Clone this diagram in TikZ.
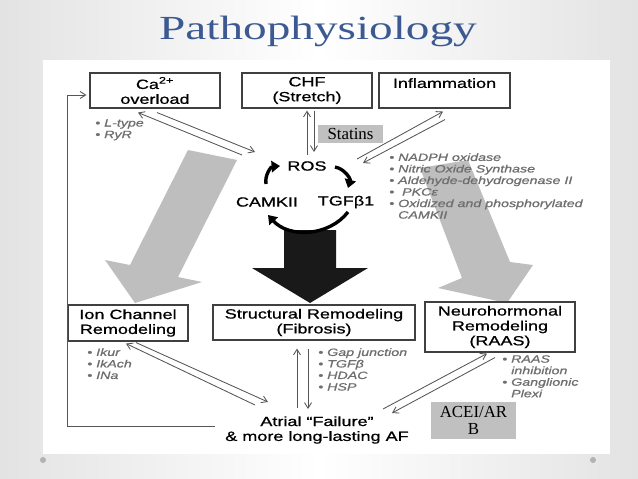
\documentclass[tikz,border=0pt]{standalone}
\usepackage{fontspec}
\setmainfont{Liberation Serif}
\newfontfamily\diagfont{Liberation Sans}[FakeStretch=1.35, FakeBold=0.8]
\newfontfamily\titlefont{Liberation Serif}[FakeStretch=1.4]
\usepackage{tikz}
\usetikzlibrary{arrows.meta}
\definecolor{titleBlue}{RGB}{60,90,145}
\definecolor{lineGray}{RGB}{85,85,85}
\definecolor{bulletGray}{RGB}{110,110,110}
\definecolor{arrowGray}{RGB}{190,190,190}
\definecolor{calloutGray}{RGB}{192,192,192}

\begin{document}
\begin{tikzpicture}[
							x=0.025cm, y=0.025cm,
							boxLevel/.style={rectangle, draw=black!75, line width=0.8pt, align=center, inner sep=0pt, font=\diagfont\fontsize{9.5}{10.6}\selectfont},
							cycleLabel/.style={inner sep=1pt, align=center, font=\diagfont\fontsize{9.5}{10.6}\selectfont},
							bulletList/.style={anchor=north west, inner sep=0pt, align=left, text=bulletGray, font=\diagfont\itshape\fontsize{7.5}{8.2}\selectfont},
							callout/.style={rectangle, fill=calloutGray, inner sep=0pt, align=center, font=\fontsize{12}{12}\selectfont},
							thinArrow/.style={-{Straight Barb[length=4pt,width=5pt]}, draw=lineGray, line width=0.6pt},
							cycleArrow/.style={-{Triangle[length=6pt,width=8pt]}, line width=2.4pt, bend left=48},
							bigArrow/.style={fill=arrowGray}
						]
						
						\shade[left color=gray!22, right color=gray!22, middle color=white] (0,0) rectangle (638,-479);
						\useasboundingbox (0,0) rectangle (638,-479);
						\fill[white] (43,-60) rectangle (610,-454);
						\fill[gray!60] (43,-460) circle (3);
						\fill[gray!60] (593,-460) circle (3);
						
						\fill[bigArrow] (188,-150) -- (237,-160) -- (178,-277) -- (202,-282) -- (135,-303) -- (105,-260) -- (130,-265) -- cycle;
						\fill[bigArrow] (420,-168) -- (468,-160) -- (510,-262) -- (533,-265) -- (507,-303) -- (438,-288) -- (462,-278) -- cycle;
						\fill[black!90] (284,-230) -- (336,-230) -- (336,-268) -- (368,-268) -- (310,-303) -- (252,-268) -- (284,-268) -- cycle;
						
						\node[text=titleBlue, font=\titlefont\fontsize{24}{28}\selectfont] (title) at (318,-31.5) {Pathophysiology};
						
						\node[boxLevel, minimum width=3.25cm, minimum height=0.875cm] (ca) at (155,-90.5) {Ca\textsuperscript{2+}\\overload};
						\node[boxLevel, minimum width=3.25cm, minimum height=0.875cm] (chf) at (307,-90.5) {CHF\\(Stretch)};
						\node[boxLevel, minimum width=3.275cm, minimum height=0.875cm] (infl) at (444.5,-90.5) {Inflammation\\~};
						\node[boxLevel, minimum width=3cm, minimum height=0.9cm] (ion) at (128,-323) {Ion Channel\\Remodeling};
						\node[boxLevel, minimum width=5.05cm, minimum height=0.875cm] (struct) at (314,-322.5) {Structural Remodeling\\(Fibrosis)};
						\node[boxLevel, minimum width=3.75cm, minimum height=1.25cm] (neuro) at (500,-327) {Neurohormonal\\Remodeling\\(RAAS)};
						
						\node[cycleLabel] (ros) at (307,-166) {ROS};
						\node[cycleLabel] (camk) at (267,-202) {CAMKII};
						\node[cycleLabel] (tgf) at (346,-202) {TGFβ1};
						\node[cycleLabel] (atr) at (317,-430) {Atrial “Failure”\\\& more long-lasting AF};
						
						\node[callout, minimum width=1.625cm, minimum height=0.45cm] (statins) at (350.5,-134) {Statins};
						\node[callout, minimum width=2.125cm, minimum height=0.925cm] (acei) at (473.5,-420.5) {ACEI/AR\\B};
						
						\node[bulletList] (caList) at (95,-119) {\textbullet\ L-type\\\textbullet\ RyR};
						\node[bulletList] (rosList) at (389,-153) {\textbullet\ NADPH oxidase\\\textbullet\ Nitric Oxide Synthase\\\textbullet\ Aldehyde-dehydrogenase II\\\textbullet\ \ PKCε\\\textbullet\ Oxidized and phosphorylated\\\phantom{\textbullet\ }CAMKII};
						\node[bulletList] (ionList) at (87,-348) {\textbullet\ Ikur\\\textbullet\ IkAch\\\textbullet\ INa};
						\node[bulletList] (structList) at (318,-348) {\textbullet\ Gap junction\\\textbullet\ TGFβ\\\textbullet\ HDAC\\\textbullet\ HSP};
						\node[bulletList] (neuroList) at (502,-355) {\textbullet\ RAAS\\\phantom{\textbullet\ }inhibition\\\textbullet\ Ganglionic\\\phantom{\textbullet\ }Plexi};
						
						\draw [thinArrow] ([shift={(-65,11)}]ros.center) to ([shift={(-17,-4)}]ca.south);
						\draw [thinArrow] ([shift={(2,-4)}]ca.south) to ([shift={(-52,14)}]ros.center);
						\draw [thinArrow] ([shift={(0,11)}]ros.center) to ([shift={(0,-2)}]chf.south);
						\draw [thinArrow] ([shift={(7,-2)}]chf.south) to ([shift={(7,14)}]ros.center);
						\draw [thinArrow] ([shift={(50,7)}]ros.center) to ([shift={(-1.5,-3)}]infl.south);
						\draw [thinArrow] ([shift={(0.5,-11)}]infl.south) to ([shift={(56,3)}]ros.center);
						
						\draw [thinArrow] ([shift={(-62,25)}]atr.center) to ([shift={(-2,-2)}]ion.south);
						\draw [thinArrow] ([shift={(8,-1)}]ion.south) to ([shift={(-49,28)}]atr.center);
						\draw [thinArrow] ([shift={(-20,22)}]atr.center) to ([shift={(-17,-8)}]struct.south);
						\draw [thinArrow] ([shift={(-6,-8)}]struct.south) to ([shift={(-9,21)}]atr.center);
						\draw [thinArrow] ([shift={(66,21)}]atr.center) to ([shift={(-13,-1)}]neuro.south);
						\draw [thinArrow] ([shift={(-5,-5)}]neuro.south) to ([shift={(75,17)}]atr.center);
						
						\coordinate (fbCorner) at (67,-426);
						\draw [thinArrow] ([shift={(-102,4)}]atr.center) to (fbCorner) |- ([shift={(-3,-4.5)}]ca.west);
						
						\draw [cycleArrow] ([shift={(-1,18)}]camk.center) to ([shift={(-27,0)}]ros.center);
						\draw [cycleArrow] ([shift={(28,-1)}]ros.center) to ([shift={(2,14)}]tgf.center);
						\draw [cycleArrow, bend left=50] ([shift={(2,-10)}]tgf.center) to ([shift={(1,-13)}]camk.center);
					\end{tikzpicture}
\end{document}
